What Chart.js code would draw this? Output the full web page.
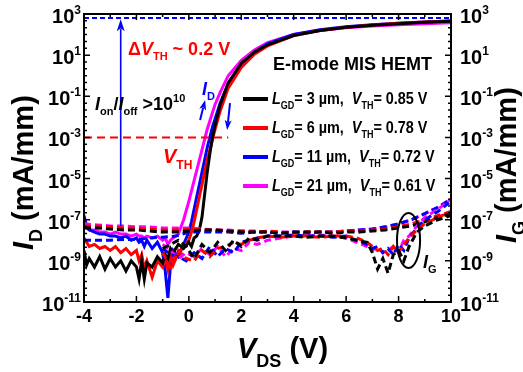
<!DOCTYPE html>
<html><head><meta charset="utf-8">
<script src="https://cdn.jsdelivr.net/npm/chart.js@4"></script>
<style>html,body{margin:0;padding:0;background:#fff}canvas{display:block}</style>
</head><body>
<canvas id="c" width="523" height="372"></canvas>
<script>
// ---------- data ----------
const xD = [-4,-3.9,-3.8,-3.6,-3.4,-3.2,-3.0,-2.8,-2.6,-2.4,-2.2,-2.0,-1.9,-1.8,-1.7,-1.6,-1.4,-1.2,-1.0,-0.9,-0.8,-0.7,-0.6,-0.4,-0.2,0,0.1,0.2,0.3,0.4,0.5,0.6,0.7,0.8,0.9,1.0,1.2,1.5,2,2.5,3,4,5,6,7,8,9,10];
const idBlack = [3.2e-9,6.3e-10,1.3e-9,5.0e-10,1.6e-9,4.0e-10,1.3e-9,5.0e-10,1.0e-9,3.2e-10,1.0e-9,5.0e-10,1.3e-10,1.0e-9,1.3e-10,8.0e-10,5.0e-10,1.6e-9,8.0e-10,2.0e-9,1.3e-9,4.0e-9,2.5e-9,6.3e-9,4.0e-9,8.0e-9,5.0e-9,1.3e-8,1.6e-8,3.2e-8,1.3e-7,1.6e-6,2.0e-5,1.6e-4,1.0e-3,4.0e-3,4.0e-2,0.45,4.0,14,32,89,158,224,282,339,398,447];
const idRed = [1.3e-8,8.0e-9,5.0e-9,6.3e-9,4.0e-9,5.0e-9,3.2e-9,5.0e-9,2.5e-9,4.0e-9,2.0e-9,3.2e-9,1.0e-9,2.0e-9,4.0e-10,1.0e-9,1.6e-10,1.0e-9,5.0e-10,1.6e-9,4.0e-10,2.0e-9,6.3e-10,2.5e-9,5.0e-9,1.0e-8,2.5e-8,7.9e-8,3.2e-7,1.3e-6,5.0e-6,2.0e-5,7.9e-5,2.5e-4,7.9e-4,2.5e-3,2.0e-2,0.25,2.5,11,28,89,158,229,295,355,407,457];
const idBlue = [1.6e-7,5.0e-8,3.2e-8,2.5e-8,2.0e-8,2.0e-8,1.6e-8,1.6e-8,1.3e-8,1.6e-8,1.0e-8,1.3e-8,8.0e-9,1.0e-8,5.0e-9,1.0e-8,4.0e-9,8.0e-9,2.5e-9,3.2e-10,1.6e-11,6.3e-10,3.2e-9,1.6e-9,6.3e-9,2.5e-8,7.9e-8,3.2e-7,1.3e-6,5.0e-6,2.0e-5,7.9e-5,3.2e-4,1.0e-3,3.2e-3,7.9e-3,5.0e-2,0.40,3.5,14,35,100,170,240,302,355,407,457];
const idMagenta = [6.3e-8,4.0e-8,3.2e-8,3.2e-8,2.5e-8,2.5e-8,2.0e-8,2.5e-8,2.0e-8,2.0e-8,1.6e-8,2.0e-8,1.6e-8,1.6e-8,1.3e-8,1.6e-8,1.3e-8,1.6e-8,1.0e-8,1.3e-8,6.3e-9,1.0e-8,1.3e-8,2.0e-8,1.0e-7,7.9e-7,2.5e-6,7.9e-6,2.5e-5,7.9e-5,2.5e-4,7.9e-4,2.5e-3,6.3e-3,1.6e-2,4.0e-2,0.16,1.0,5.6,18,40,100,158,214,263,302,339,372];

const xG = [-4,-3.5,-3,-2.5,-2,-1.5,-1,-0.5,0,0.5,1,1.5,2,2.5,3,3.5,4,4.5,5,5.5,6,6.5,7,7.5,8,8.5,9,9.5,10];
const igBlackF = [4.0e-8,4.0e-8,3.5e-8,3.2e-8,3.2e-8,2.8e-8,2.5e-8,2.5e-8,2.8e-8,3.2e-8,3.2e-8,2.8e-8,2.5e-8,2.5e-8,2.5e-8,2.2e-8,2.5e-8,2.5e-8,2.5e-8,2.2e-8,2.5e-8,2.5e-8,2.8e-8,3.2e-8,4.0e-8,5.0e-8,7.9e-8,1.3e-7,2.0e-7];
const igRedF = [5.0e-8,5.0e-8,4.5e-8,4.0e-8,4.0e-8,3.5e-8,3.2e-8,3.2e-8,3.5e-8,3.2e-8,3.2e-8,2.8e-8,2.8e-8,2.5e-8,2.8e-8,2.5e-8,2.2e-8,2.5e-8,2.5e-8,2.5e-8,2.8e-8,2.8e-8,3.2e-8,3.5e-8,4.5e-8,6.3e-8,1.0e-7,1.6e-7,2.5e-7];
const igBlueF = [1.0e-8,1.0e-8,1.0e-8,1.1e-8,1.1e-8,1.3e-8,1.4e-8,1.6e-8,2.5e-8,2.5e-8,2.5e-8,2.5e-8,2.2e-8,2.5e-8,2.5e-8,2.2e-8,2.5e-8,2.2e-8,2.5e-8,2.5e-8,2.8e-8,3.2e-8,3.5e-8,4.5e-8,6.3e-8,1.0e-7,2.0e-7,4.0e-7,1.0e-6];
const igMagentaF = [6.3e-8,5.6e-8,5.0e-8,5.0e-8,4.5e-8,4.5e-8,4.0e-8,4.0e-8,4.0e-8,3.5e-8,3.2e-8,3.2e-8,2.8e-8,2.8e-8,2.5e-8,2.5e-8,2.5e-8,2.5e-8,2.5e-8,2.5e-8,2.8e-8,3.2e-8,3.5e-8,4.5e-8,6.3e-8,1.0e-7,2.0e-7,4.0e-7,1.0e-6];

const xGL = [-1,-0.7,-0.4,-0.1,0.2,0.5,0.8,1.1,1.4,1.7,2.0,2.3,2.6,3.0,3.5,4,4.5,5,5.5,6,6.4,6.8,7.0,7.2,7.4,7.6,7.8,8.0,8.2,8.4,8.7,9.0,9.5,10];
const igBlackR = [4.0e-9,6.3e-9,1.0e-8,5.0e-9,1.3e-9,6.3e-9,2.5e-9,7.9e-9,3.2e-9,1.0e-8,5.0e-9,1.3e-8,1.0e-8,1.6e-8,1.6e-8,1.6e-8,1.4e-8,1.6e-8,1.6e-8,1.3e-8,1.0e-8,7.9e-9,2.5e-9,4.0e-10,1.3e-9,2.5e-10,2.0e-9,3.2e-9,1.0e-9,5.0e-9,2.5e-8,5.0e-8,1.0e-7,1.6e-7];
const igRedR = [2.5e-9,5.0e-10,3.2e-9,1.3e-9,1.0e-9,3.2e-9,1.6e-9,4.0e-9,5.0e-9,7.9e-9,6.3e-9,1.0e-8,1.3e-8,1.6e-8,1.4e-8,1.6e-8,1.6e-8,1.4e-8,1.6e-8,1.6e-8,1.3e-8,7.9e-9,5.0e-9,3.2e-9,4.0e-9,2.0e-9,5.0e-9,2.5e-9,6.3e-9,1.3e-8,3.2e-8,6.3e-8,1.3e-7,2.5e-7];
const igBlueR = [4.0e-9,2.0e-9,1.6e-9,1.0e-9,2.5e-9,1.3e-9,5.0e-9,1.6e-9,4.0e-9,2.5e-9,7.9e-9,1.0e-8,1.3e-8,1.6e-8,1.6e-8,1.8e-8,1.6e-8,1.6e-8,1.4e-8,1.6e-8,1.0e-8,6.3e-9,4.0e-9,5.0e-9,2.5e-9,4.0e-9,2.0e-9,6.3e-9,3.2e-9,1.3e-8,4.0e-8,1.0e-7,2.5e-7,7.9e-7];
const igMagentaR = [6.3e-9,3.2e-9,1.3e-9,2.5e-9,1.6e-9,4.0e-9,2.0e-9,5.0e-9,1.6e-9,4.0e-9,3.2e-9,7.9e-9,6.3e-9,1.0e-8,1.3e-8,1.6e-8,1.6e-8,1.8e-8,1.6e-8,1.3e-8,7.9e-9,5.0e-9,3.2e-9,5.0e-9,2.5e-9,3.2e-9,5.0e-9,2.5e-9,1.0e-8,1.6e-8,5.0e-8,1.3e-7,3.2e-7,1.0e-6];

const seriesColors = ['#000000','#ff0000','#0000ff','#ff00ff'];
const legendLGD = ['3','6','11','21'];
const legendVTH = ['0.85','0.78','0.72','0.61'];
const xTickLabels = [-4,-2,0,2,4,6,8,10];
const yTickExps = [3,1,-1,-3,-5,-7,-9,-11];
// reference levels
const onLevel = 640, vthLevel = 1e-3, offLevel = 5e-8, arrowX = -2.6, vthLineEnd = 1.5;

// ---------- chart ----------
const FAM = '"Liberation Sans", Arial, sans-serif';
function pts(xs, ys){ return xs.map((x,i)=>({x, y: ys[i]})); }
const idSets = [idBlack, idRed, idBlue, idMagenta];
const igF = [igBlackF, igRedF, igBlueF, igMagentaF];
const igR = [igBlackR, igRedR, igBlueR, igMagentaR];
const datasets = [];
for (let i=0;i<4;i++){
  datasets.push({data: pts(xGL, igR[i]), yAxisID:'y2', borderColor: seriesColors[i], borderWidth:3, borderDash:[7,4], pointRadius:0, tension:0, fill:false});
}
for (let i=0;i<4;i++){
  datasets.push({data: pts(xG, igF[i]), yAxisID:'y2', borderColor: seriesColors[i], borderWidth:3, borderDash:[7,4], pointRadius:0, tension:0, fill:false});
}
for (let i=0;i<4;i++){
  datasets.push({data: pts(xD, idSets[i]), yAxisID:'y', borderColor: seriesColors[i], borderWidth:3, pointRadius:0, tension:0, fill:false});
}

function rich(ctx, x, y, segs, size, color, align, sx){
  align = align||'left'; sx = sx||1;
  const fontFor=(st,sz)=>((st==='i')?'italic ':'')+'bold '+sz+'px '+FAM;
  const items = segs.map(([t,st])=>{
    const small = st==='s'||st==='p';
    const sz = small? Math.round(size*0.62): size;
    ctx.font = fontFor(st,sz);
    return {t,st,sz,w:ctx.measureText(t).width, dy: st==='s'? size*0.3 : st==='p'? -size*0.45 : 0};
  });
  const total = items.reduce((a,b)=>a+b.w,0);
  ctx.save(); ctx.translate(x,y); ctx.scale(sx,1);
  let cx = align==='left'?0: align==='right'? -total : -total/2;
  ctx.fillStyle=color; ctx.textBaseline='alphabetic'; ctx.textAlign='left';
  for(const it of items){ ctx.font=fontFor(it.st,it.sz); ctx.fillText(it.t,cx,it.dy); cx+=it.w; }
  ctx.restore();
}
function arrow(ctx, x1,y1,x2,y2,color,lw,hl,hw){
  const a=Math.atan2(y2-y1,x2-x1);
  ctx.save(); ctx.strokeStyle=color; ctx.fillStyle=color; ctx.lineWidth=lw; ctx.setLineDash([]);
  ctx.beginPath(); ctx.moveTo(x1,y1); ctx.lineTo(x2-Math.cos(a)*hl*0.8,y2-Math.sin(a)*hl*0.8); ctx.stroke();
  ctx.translate(x2,y2); ctx.rotate(a);
  ctx.beginPath(); ctx.moveTo(0,0); ctx.lineTo(-hl,-hw/2); ctx.lineTo(-hl*0.75,0); ctx.lineTo(-hl,hw/2); ctx.closePath(); ctx.fill();
  ctx.restore();
}

const deco = {
  id:'deco',
  beforeDraw(chart){ const c=chart.ctx; c.save(); c.fillStyle='#fff'; c.fillRect(0,0,chart.width,chart.height); c.restore(); },
  afterDatasetsDraw(chart){
    const ctx=chart.ctx, a=chart.chartArea, xs=chart.scales.x, ys=chart.scales.y;
    const X=v=>xs.getPixelForValue(v), Y=v=>ys.getPixelForValue(v);
    ctx.save();
    // reference lines
    ctx.setLineDash([5,3]); ctx.lineWidth=2; ctx.strokeStyle='#0000ff';
    ctx.beginPath(); ctx.moveTo(X(-4),Y(onLevel)); ctx.lineTo(X(10),Y(onLevel)); ctx.stroke();
    ctx.setLineDash([8,5]); ctx.strokeStyle='#ff0000';
    ctx.beginPath(); ctx.moveTo(X(-4),Y(vthLevel)); ctx.lineTo(X(vthLineEnd),Y(vthLevel)); ctx.stroke();
    ctx.setLineDash([]);
    arrow(ctx, X(arrowX), Y(offLevel), X(arrowX), Y(560), '#0000ff', 1.6, 12, 8);
    arrow(ctx, X(0.43), Y(7e-3), X(0.62), Y(6.6e-2), '#0000ff', 2, 10, 7);
    arrow(ctx, X(1.57), Y(4.7e-2), X(1.46), Y(2.3e-3), '#0000ff', 2, 10, 7);
    // ellipse
    const ecx=X(8.38), ecy=Y(9.8e-9), erx=X(8.38+0.44)-ecx, ery=Y(9.8e-9)-Y(9.8e-9*Math.pow(10,1.34));
    ctx.lineWidth=2; ctx.strokeStyle='#000';
    ctx.beginPath(); ctx.ellipse(ecx,ecy,erx,ery,0,0,Math.PI*2); ctx.stroke();
    // frame
    ctx.lineWidth=2; ctx.strokeStyle='#000';
    ctx.strokeRect(a.left,a.top,a.right-a.left,a.bottom-a.top);
    // x ticks
    ctx.lineWidth=1.5;
    for(let v=-4; v<=10; v+=1){
      const px=X(v), L=(v%2===0)?6:3;
      ctx.beginPath(); ctx.moveTo(px,a.bottom); ctx.lineTo(px,a.bottom-L); ctx.moveTo(px,a.top); ctx.lineTo(px,a.top+L); ctx.stroke();
    }
    // y ticks
    for(let k=-33;k<=9;k++){
      const e=k/3, py=Y(Math.pow(10,e));
      const major = (k%3===0) && (Math.abs(e)%2===1);
      const L = major?6:3;
      ctx.beginPath(); ctx.moveTo(a.left,py); ctx.lineTo(a.left+L,py); ctx.moveTo(a.right,py); ctx.lineTo(a.right-L,py); ctx.stroke();
    }
    // tick labels
    for(const v of xTickLabels){ rich(ctx, X(v), 322, [[String(v),'n']], 18, '#000', 'center'); }
    for(const e of yTickExps){
      const py=Y(Math.pow(10,e));
      rich(ctx, 81, py+9, [['10','n'],[String(e),'p']], 20, '#000', 'right');
      rich(ctx, 460, py+9, [['10','n'],[String(e),'p']], 20, '#000', 'left');
    }
    // axis titles
    rich(ctx, 237, 358, [['V','i'],['DS','s'],[' (V)','n']], 29, '#000', 'left');
    ctx.save(); ctx.translate(33,250); ctx.rotate(-Math.PI/2);
    rich(ctx, 0, 0, [['I','i'],['D','s'],[' (mA/mm)','n']], 29, '#000', 'left'); ctx.restore();
    ctx.save(); ctx.translate(516,243); ctx.rotate(-Math.PI/2);
    rich(ctx, 0, 0, [['I','i'],['G','s'],[' (mA/mm)','n']], 29, '#000', 'left'); ctx.restore();
    // annotations
    rich(ctx, 128, 55, [['\u0394','n'],['V','i'],['TH','s'],[' ~ 0.2 V','n']], 18, '#ff0000');
    rich(ctx, 95, 110, [['I','i'],['on','s'],['/','n'],['I','i'],['off','s'],[' >10','n'],['10','p']], 18, '#000');
    rich(ctx, 163, 163, [['V','i'],['TH','s']], 20, '#ff0000');
    rich(ctx, 202, 95, [['I','i'],['D','s']], 18, '#0000ff');
    rich(ctx, 273, 70, [['E-mode MIS HEMT','n']], 18, '#000');
    rich(ctx, 423, 268, [['I','i'],['G','s']], 18, '#000');
    // legend
    const rows=[99,128,157,186];
    for(let i=0;i<4;i++){
      ctx.lineWidth=4; ctx.strokeStyle=seriesColors[i];
      ctx.beginPath(); ctx.moveTo(243,rows[i]); ctx.lineTo(268,rows[i]); ctx.stroke();
      rich(ctx, 272, rows[i]+5, [['L','i'],['GD','s'],['= '+legendLGD[i]+' \u00b5m,  ','n'],['V','i'],['TH','s'],['= '+legendVTH[i]+' V','n']], 16, '#000', 'left', 0.9);
    }
    ctx.restore();
  }
};

new Chart(document.getElementById('c'), {
  type:'line',
  data:{datasets},
  options:{
    responsive:false, animation:false, devicePixelRatio:1,
    layout:{padding:{top:14,left:0,right:0,bottom:0}},
    plugins:{legend:{display:false}, tooltip:{enabled:false}},
    scales:{
      x:{type:'linear', min:-4, max:10, grid:{display:false}, border:{display:false}, ticks:{display:false}, afterFit(s){s.height=70;}},
      y:{type:'logarithmic', position:'left', min:1e-11, max:1e3, grid:{display:false}, border:{display:false}, ticks:{display:false}, afterFit(s){s.width=84;}},
      y2:{type:'logarithmic', position:'right', min:1e-11, max:1e3, grid:{display:false}, border:{display:false}, ticks:{display:false}, afterFit(s){s.width=72;}}
    }
  },
  plugins:[deco]
});
</script>
</body></html>
